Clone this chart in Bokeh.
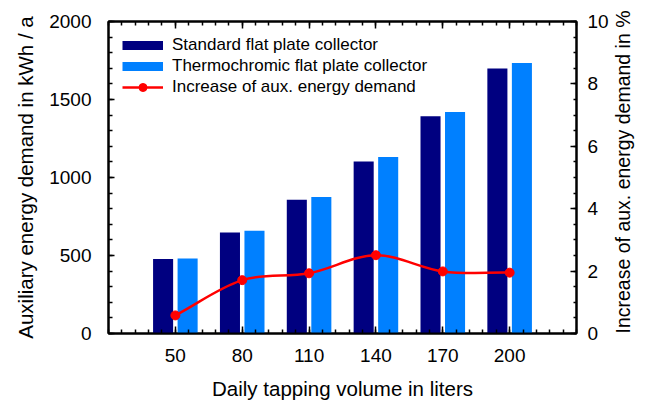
import numpy as np
from bokeh.plotting import figure
from bokeh.models import (Range1d, LinearAxis, FixedTicker, Legend, LegendItem,
                          ColumnDataSource, CustomJSTickFormatter)
from bokeh.transform import dodge
from bokeh.embed import file_html
from bokeh.resources import INLINE

# ---- data ----
volumes = [50, 80, 110, 140, 170, 200]
standard = [477, 647, 858, 1103, 1392, 1698]
thermochromic = [480, 658, 875, 1131, 1420, 1734]
increase = [0.58, 1.71, 1.93, 2.51, 1.99, 1.95]

x_major_ticks = [50, 80, 110, 140, 170, 200]
y_left_ticks = [0, 500, 1000, 1500, 2000]
y_right_ticks = [0, 2, 4, 6, 8, 10]

labels = ["Standard flat plate collector",
          "Thermochromic flat plate collector",
          "Increase of aux. energy demand"]
right_title = "Increase of aux. energy demand in %"

NAVY = "#000080"
LIGHT = "#0080FF"
RED = "#FF0000"
FONT = "Liberation Sans"
LABEL_SIZE = "20.5px"

p = figure(width=647, height=403, output_backend="svg", toolbar_location=None,
           x_range=Range1d(20, 230), y_range=Range1d(0, 2000),
           min_border_left=108, min_border_right=65, min_border_top=21,
           min_border_bottom=70, x_axis_location=None, y_axis_location=None)
p.extra_y_ranges = {"pct": Range1d(0, 10)}
p.xgrid.visible = False
p.ygrid.visible = False
p.outline_line_color = "black"
p.outline_line_width = 2
p.background_fill_color = "white"
p.border_fill_color = "white"

src = ColumnDataSource(dict(x=volumes, std=standard, thermo=thermochromic))
r_std = p.vbar(x=dodge("x", -5.5), top="std", width=9, bottom=0, source=src,
               fill_color=NAVY, line_color=None)
r_th = p.vbar(x=dodge("x", 5.5), top="thermo", width=9, bottom=0, source=src,
              fill_color=LIGHT, line_color=None)

# smooth curve through the points (Catmull-Rom as cubic Bezier segments)
xs = np.array(volumes, float)
ys = np.array(increase, float)
n = len(xs)
mx = np.zeros(n); my = np.zeros(n)
for i in range(n):
    a = max(i - 1, 0); b = min(i + 1, n - 1)
    f = 0.5 if (0 < i < n - 1) else 1.0
    mx[i] = (xs[b] - xs[a]) * f
    my[i] = (ys[b] - ys[a]) * f
p.bezier(x0=xs[:-1], y0=ys[:-1], x1=xs[1:], y1=ys[1:],
         cx0=xs[:-1] + mx[:-1] / 3, cy0=ys[:-1] + my[:-1] / 3,
         cx1=xs[1:] - mx[1:] / 3, cy1=ys[1:] - my[1:] / 3,
         line_color=RED, line_width=2.5, y_range_name="pct")
r_pts = p.scatter(x=volumes, y=increase, size=9, fill_color=RED, line_color=RED,
                  y_range_name="pct")

# legend swatches (no visible data, only used to draw the legend glyphs)
nan2 = [np.nan, np.nan]
leg_std = p.line(x=nan2, y=nan2, line_color=NAVY, line_width=9, line_cap="butt")
leg_th = p.line(x=nan2, y=nan2, line_color=LIGHT, line_width=9, line_cap="butt")
leg_ln = p.line(x=nan2, y=nan2, line_color=RED, line_width=2.5)


def style(ax, maj, mnr):
    ax.axis_line_width = 2
    ax.axis_line_color = "black"
    ax.major_tick_in = maj
    ax.major_tick_out = 0
    ax.minor_tick_in = mnr
    ax.minor_tick_out = 0
    ax.major_tick_line_width = 1.5
    ax.minor_tick_line_width = 1.5
    ax.major_tick_line_color = "black"
    ax.minor_tick_line_color = "black"
    ax.major_label_text_font = FONT
    ax.major_label_text_font_size = "19px"
    ax.major_label_text_color = "black"
    ax.axis_label_text_font = FONT
    ax.axis_label_text_font_size = LABEL_SIZE
    ax.axis_label_text_font_style = "normal"
    ax.axis_label_text_color = "black"


x_minor = [20 + 6 * k for k in range(36)]
xt = FixedTicker(ticks=x_major_ticks, minor_ticks=x_minor)

xb = LinearAxis(ticker=xt, axis_label="Daily tapping volume in liters")
style(xb, 7, 4)
xb.major_label_standoff = 15
xb.axis_label_standoff = 12
p.add_layout(xb, "below")

xa = LinearAxis(ticker=FixedTicker(ticks=x_major_ticks, minor_ticks=x_minor),
                formatter=CustomJSTickFormatter(code="return ''"))
style(xa, 7, 4)
xa.major_label_text_font_size = "1px"
xa.major_label_standoff = 0
p.add_layout(xa, "above")

yl = LinearAxis(ticker=FixedTicker(ticks=y_left_ticks,
                                   minor_ticks=list(range(0, 2001, 100))),
                axis_label="Auxiliary energy demand in kWh / a")
style(yl, 6, 4)
yl.major_label_standoff = 17
yl.axis_label_standoff = 9
p.add_layout(yl, "left")

yr = LinearAxis(y_range_name="pct",
                ticker=FixedTicker(ticks=y_right_ticks,
                                   minor_ticks=[0.5 * k for k in range(21)]),
                axis_label=right_title)
style(yr, 6, 3)
yr.major_label_standoff = 11
yr.axis_label_standoff = 11
yr.axis_label_text_font_size = "19.5px"
yr.axis_label_text_line_height = 0.8
# title reads bottom-to-top, starting at the bottom of the frame
yr.axis_label_orientation = np.pi / 2
if hasattr(yr, "axis_label_align"):
    yr.axis_label_align = "start"
p.add_layout(yr, "right")

legend = Legend(items=[LegendItem(label=labels[0], renderers=[leg_std]),
                       LegendItem(label=labels[1], renderers=[leg_th]),
                       LegendItem(label=labels[2], renderers=[leg_ln, r_pts])],
                location="top_left", border_line_color=None,
                background_fill_alpha=0, margin=14, padding=12, spacing=1,
                glyph_width=41, glyph_height=20, label_height=20,
                label_standoff=9, label_text_font=FONT,
                label_text_font_size="17px", label_text_color="black")
p.add_layout(legend)

open("out.html", "w").write(file_html(p, INLINE))
